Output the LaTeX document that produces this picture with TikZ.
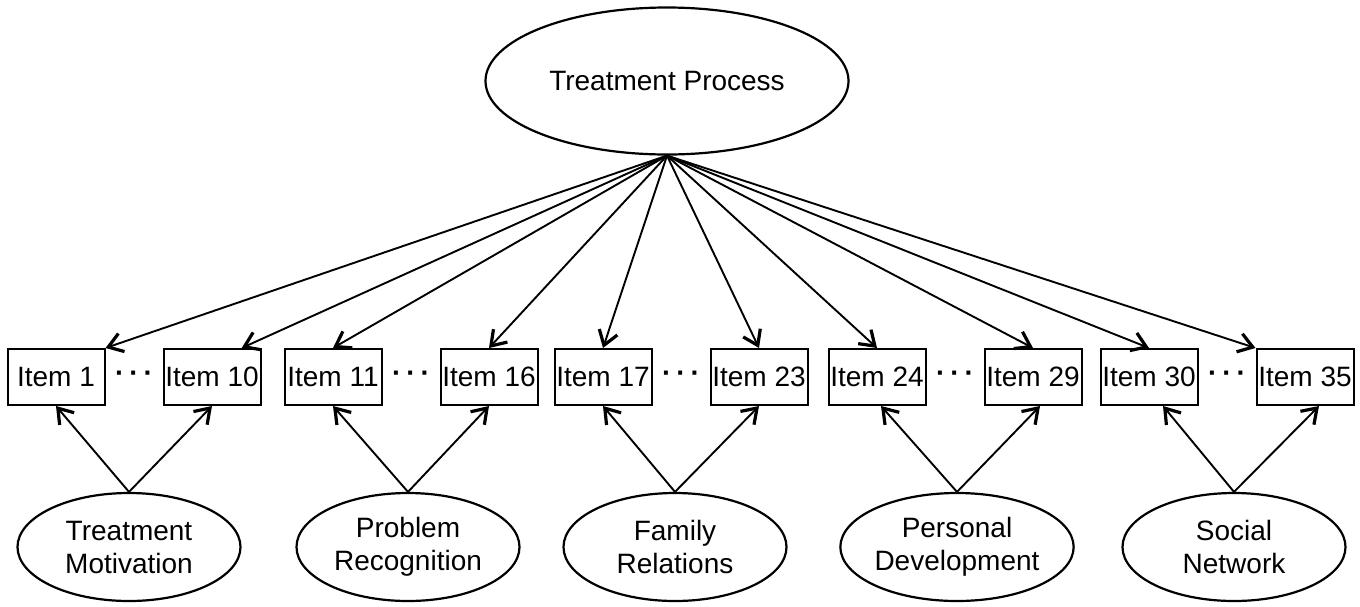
\documentclass[tikz,border=0pt]{standalone}
\usepackage{fontspec}
\setmainfont{Liberation Sans}
\usepackage{tikz}
\usetikzlibrary{arrows.meta,positioning,shapes.geometric,calc}
\tikzset{
  latent/.style={ellipse, draw=black, line width=1.1pt, inner sep=0pt, align=center, font=\fontsize{14}{16.5}\selectfont},
  item/.style={rectangle, draw=black, line width=1pt, minimum width=48.5pt, minimum height=28pt, inner sep=0pt, font=\fontsize{14}{16.5}\selectfont},
  gapdots/.style={inner sep=0pt, font=\bfseries\fontsize{14}{16.5}\selectfont},
  arrow/.style={-{Straight Barb[length=7pt,width=9.5pt,line width=1.6pt]}, line width=0.95pt}
}

\begin{document}
\begin{tikzpicture}[x=0.5pt, y=-0.5pt, node distance=28.5pt]
  \useasboundingbox (0,0) rectangle (1360,606);
  \node[latent, minimum width=181.5pt, minimum height=73.5pt] (tp) at (667,81) {Treatment Process};
  % item boxes
  \node[item] (i1) at (56,377) {Item 1};
  \node[item, right=of i1] (i10) {Item 10};
  \node[item] (i11) at (333,377) {Item 11};
  \node[item, right=of i11] (i16) {Item 16};
  \node[item] (i17) at (603,377) {Item 17};
  \node[item, right=of i17] (i23) {Item 23};
  \node[item] (i24) at (877,377) {Item 24};
  \node[item, right=of i24] (i29) {Item 29};
  \node[item] (i30) at (1149,377) {Item 30};
  \node[item, right=of i30] (i35) {Item 35};
  \node[gapdots] (d1) at ($(i1.east)!0.5!(i10.west)$) {·\kern2.5pt·\kern2.5pt·};
  \node[gapdots] (d2) at ($(i11.east)!0.5!(i16.west)$) {·\kern2.5pt·\kern2.5pt·};
  \node[gapdots] (d3) at ($(i17.east)!0.5!(i23.west)$) {·\kern2.5pt·\kern2.5pt·};
  \node[gapdots] (d4) at ($(i24.east)!0.5!(i29.west)$) {·\kern2.5pt·\kern2.5pt·};
  \node[gapdots] (d5) at ($(i30.east)!0.5!(i35.west)$) {·\kern2.5pt·\kern2.5pt·};
  % factors
  \node[latent, minimum width=111.5pt, minimum height=54pt] (tm) at (129,547) {Treatment\\Motivation};
  \node[latent, minimum width=111.5pt, minimum height=54pt] (pr) at (408,547) {Problem\\Recognition};
  \node[latent, minimum width=111.5pt, minimum height=54pt] (fr) at (675,547) {Family\\Relations};
  \node[latent, minimum width=111.5pt, minimum height=54pt] (pd) at (957,547) {Personal\\Development};
  \node[latent, minimum width=111.5pt, minimum height=54pt] (sn) at (1234,547) {Social\\Network};
  % general factor
  \draw[arrow] (tp.south) -- (i1.north east);
  \draw[arrow] (tp.south) -- ($(i10.north)!0.6!(i10.north east)$);
  \draw[arrow] (tp.south) -- (i11.north);
  \draw[arrow] (tp.south) -- (i16.north);
  \draw[arrow] (tp.south) -- (i17.north);
  \draw[arrow] (tp.south) -- (i23.north);
  \draw[arrow] (tp.south) -- (i24.north);
  \draw[arrow] (tp.south) -- (i29.north);
  \draw[arrow] (tp.south) -- (i30.north);
  \draw[arrow] (tp.south) -- (i35.north west);
  % specific factors
  \draw[arrow] (tm.north) -- (i1.south);
  \draw[arrow] (tm.north) -- (i10.south);
  \draw[arrow] (pr.north) -- (i11.south);
  \draw[arrow] (pr.north) -- (i16.south);
  \draw[arrow] (fr.north) -- (i17.south);
  \draw[arrow] (fr.north) -- (i23.south);
  \draw[arrow] (pd.north) -- ([xshift=2pt]i24.south);
  \draw[arrow] (pd.north) -- ([xshift=3.5pt]i29.south);
  \draw[arrow] (sn.north) -- ([xshift=7pt]i30.south);
  \draw[arrow] (sn.north) -- ([xshift=7pt]i35.south);
\end{tikzpicture}
\end{document}
